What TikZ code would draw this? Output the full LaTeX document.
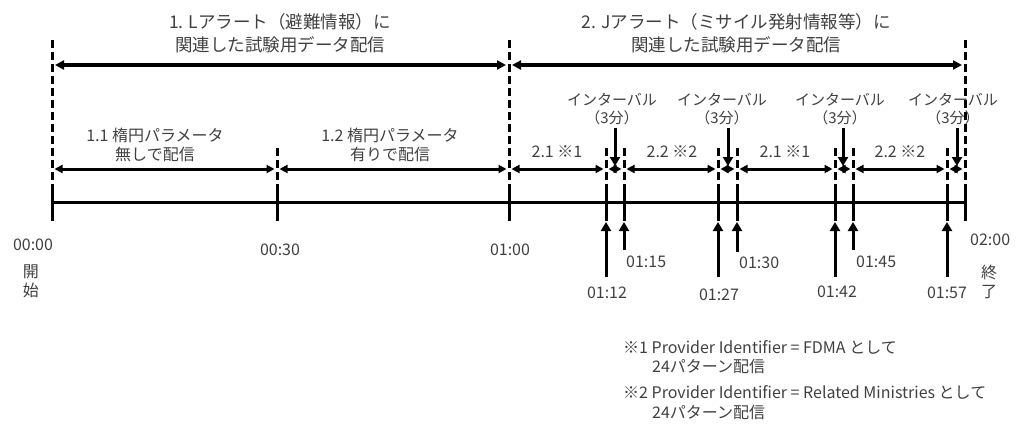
\documentclass[tikz,border=0pt]{standalone}
\usepackage{fontspec}
\setmainfont{Noto Sans CJK JP}
\usetikzlibrary{arrows.meta}
\begin{document}
\begin{tikzpicture}[x=1pt,y=-1pt,
  axisline/.style={line width=3pt},
  tickline/.style={line width=3pt},
  guide/.style={line width=3pt, dash pattern=on 8pt off 4pt},
  bigspan/.style={line width=3.5pt, {Triangle[length=9pt,width=9pt]}-{Triangle[length=9pt,width=9pt]}},
  span/.style={line width=3pt, {Triangle[length=8pt,width=8pt]}-{Triangle[length=8pt,width=8pt]}},
  pointer/.style={line width=3pt, -{Triangle[length=9pt,width=10pt]}},
  lbl/.style={font=\fontsize{16}{19}\selectfont, text=black!75, inner sep=0pt, align=center},
  ivl/.style={font=\fontsize{15}{18}\selectfont, text=black!75, inner sep=0pt, align=center},
  title/.style={font=\fontsize{17.5}{23}\selectfont, text=black!75, inner sep=0pt, align=center},
  note/.style={font=\fontsize{16}{19}\selectfont, text=black!75, inner sep=0pt, anchor=west},
]
\useasboundingbox (0,0) rectangle (1018,432);

% time positions
\foreach \n/\x in {a/52, b/277, c/509, d/606, e/624, f/718, g/737, h/835, i/853, j/947, k/965}{
  \coordinate (top\n) at (\x,40);
  \coordinate (mid\n) at (\x,148);
  \coordinate (up\n) at (\x,185);
  \coordinate (ax\n) at (\x,202);
  \coordinate (bot\n) at (\x,221);
}

% main axis
\draw[axisline] (axa) -- (axk);
% solid ticks
\foreach \n in {a,b,c,d,e,f,g,h,i,j,k}{
  \draw[tickline] (up\n) -- (bot\n);
}
% dashed guides
\foreach \n in {a,c,k}{ \draw[guide] (top\n) -- (up\n); }
\foreach \n in {b,d,e,f,g,h,i,j}{ \draw[guide] (mid\n) -- (up\n); }

% top spans
\draw[bigspan] ([xshift=3pt]topa|-0,65) -- ([xshift=-3pt]topc|-0,65);
\draw[bigspan] ([xshift=3pt]topc|-0,65) -- ([xshift=-3pt]topk|-0,65);

\node[title] (t1) at (280,33) {1. Lアラート（避難情報）に\\関連した試験用データ配信};
\node[title] (t2) at (736,33) {2. Jアラート（ミサイル発射情報等）に\\関連した試験用データ配信};

% second level spans
\foreach \p/\q in {a/b, b/c, c/d, d/e, e/f, f/g, g/h, h/i, i/j, j/k}{
  \draw[span] ([xshift=2.5pt]mid\p|-0,169) -- ([xshift=-2.5pt]mid\q|-0,169);
}

\node[lbl] (s11) at (155,145) {1.1 楕円パラメータ\\無しで配信};
\node[lbl] (s12) at (390,145) {1.2 楕円パラメータ\\有りで配信};
\node[lbl] (s21a) at (557,152) {2.1 ※1};
\node[lbl] (s22a) at (672,152) {2.2 ※2};
\node[lbl] (s21b) at (785,152) {2.1 ※1};
\node[lbl] (s22b) at (900,152) {2.2 ※2};

% interval labels
\node[ivl] (iv1) at (612,109) {インターバル\\（3分）};
\node[ivl] (iv2) at (722,109) {インターバル\\（3分）};
\node[ivl] (iv3) at (840,109) {インターバル\\（3分）};
\node[ivl] (iv4) at (953,109) {インターバル\\（3分）};
\coordinate (p1) at (615,128); \coordinate (q1) at (615,166);
\coordinate (p2) at (728,128); \coordinate (q2) at (728,166);
\coordinate (p3) at (843,128); \coordinate (q3) at (843,166);
\coordinate (p4) at (957,128); \coordinate (q4) at (957,166);
\foreach \n in {1,2,3,4}{ \draw[pointer] (p\n) -- (q\n); }

% up arrows below
\foreach \n/\y in {d/277, e/250, f/277, g/252, h/277, i/250, j/277}{
  \draw[pointer] (bot\n|-0,\y) -- ([yshift=-1pt]bot\n);
}

% time labels
\node[lbl] (l00) at (33,245) {00:00};
\node[lbl] (s00) at (31,281) {開\\始};
\node[lbl] (l30) at (280,250) {00:30};
\node[lbl] (l60) at (510,250) {01:00};
\node[lbl] (l72) at (607,293) {01:12};
\node[lbl,anchor=west] (l75) at (626,262) {01:15};
\node[lbl] (l87) at (719,295) {01:27};
\node[lbl,anchor=west] (l90) at (739,263) {01:30};
\node[lbl] (l102) at (837,292) {01:42};
\node[lbl,anchor=west] (l105) at (856,262) {01:45};
\node[lbl] (l117) at (947,293) {01:57};
\node[lbl,anchor=west] (l120) at (970,240) {02:00};
\node[lbl] (e120) at (989,282) {終\\了};

% footnotes
\node[note] (n1) at (623,347) {※1 Provider Identifier = FDMA として};
\node[note] (n1b) at (652,366) {24パターン配信};
\node[note] (n2) at (623,392) {※2 Provider Identifier = Related Ministries として};
\node[note] (n2b) at (652,412) {24パターン配信};
\end{tikzpicture}
\end{document}
